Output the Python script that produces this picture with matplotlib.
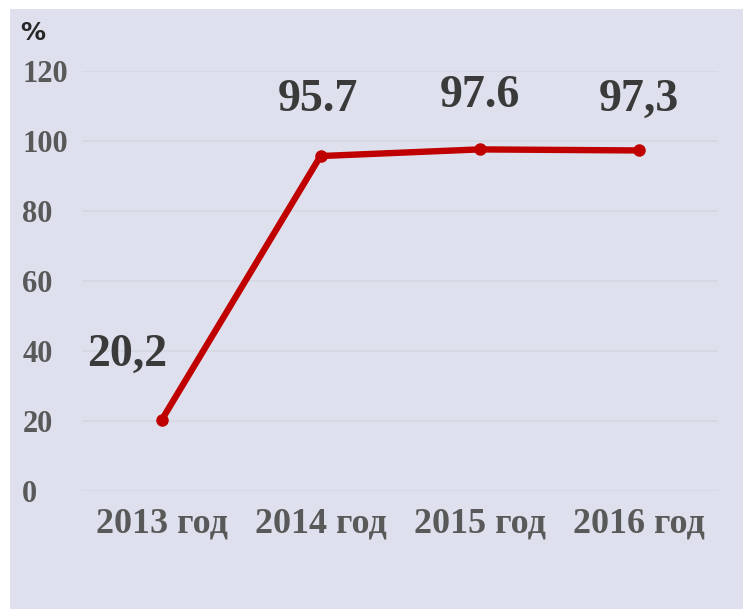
import matplotlib.pyplot as plt
from matplotlib.patches import Rectangle

years = ['2013 год', '2014 год', '2015 год', '2016 год']
values = [20.2, 95.7, 97.6, 97.3]
value_labels = ['20,2', '95.7', '97.6', '97,3']
yticks = [0, 20, 40, 60, 80, 100, 120]


def main():
    bg = '#dee1ed'
    fig = plt.figure(figsize=(7.43, 6.09), dpi=100, facecolor='white')
    # фон панели с белой рамкой слева и сверху
    fig.patches.append(Rectangle((10 / 743, 0), 1, 1 - 9 / 609, transform=fig.transFigure,
                                 facecolor=bg, edgecolor='none', zorder=-10))

    ax = fig.add_axes([82 / 743, 118 / 609, 636 / 743, 420 / 609])
    ax.set_facecolor('none')

    x = list(range(len(years)))
    ax.plot(x, values, color='#c00000', linewidth=4.6, marker='o', markersize=8,
            solid_capstyle='round', zorder=3)

    ax.set_xlim(-0.5, len(years) - 0.5)
    ax.set_ylim(0, 120)
    ax.set_yticks(yticks)
    ax.set_yticklabels([str(v) for v in yticks])
    ax.set_xticks(x)
    ax.set_xticklabels(years)
    ax.grid(axis='y', color='#d5d8e3', linewidth=1.2)
    ax.set_axisbelow(True)
    for s in ax.spines.values():
        s.set_visible(False)

    ax.tick_params(axis='y', length=0, pad=43)
    ax.tick_params(axis='x', length=0, pad=12)
    for t in ax.get_yticklabels():
        t.set_fontfamily('Liberation Serif')
        t.set_fontweight('bold')
        t.set_fontsize(22)
        t.set_color('#595959')
        t.set_horizontalalignment('left')
    for t in ax.get_xticklabels():
        t.set_fontfamily('Liberation Serif')
        t.set_fontweight('bold')
        t.set_fontsize(26)
        t.set_color('#595959')

    # подписи значений
    offsets = [(-34, 65), (-3, 56), (0, 53), (0, 51)]
    for xi, v, lab, off in zip(x, values, value_labels, offsets):
        ax.annotate(lab, (xi, v), xytext=off, textcoords='offset pixels',
                    ha='center', va='center', fontsize=33, fontweight='bold',
                    family='Liberation Serif', color='#3a3a3a')

    fig.text(20 / 743, 1 - 33 / 609, '%', fontsize=18, fontweight='bold',
             family='DejaVu Sans', color='#262626', va='center', ha='left')

    plt.savefig('out.png', dpi=100, facecolor='white')


if __name__ == '__main__':
    main()
